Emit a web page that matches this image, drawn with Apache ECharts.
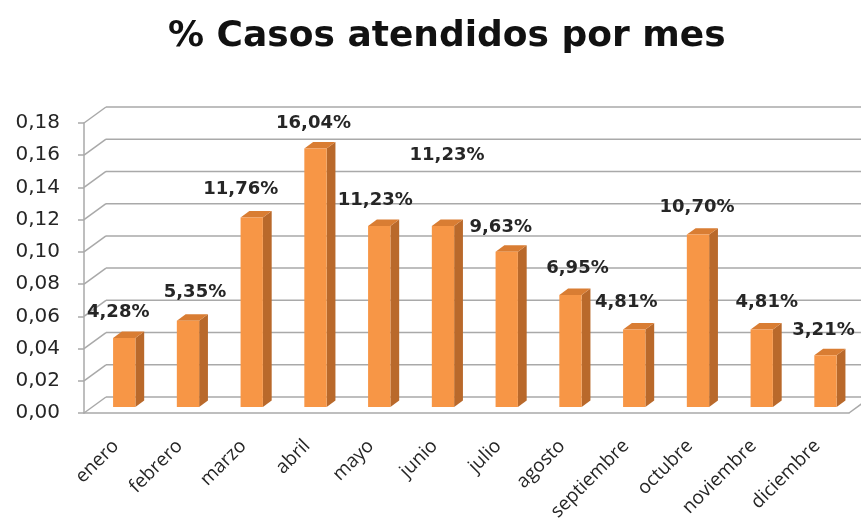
<!DOCTYPE html>
<html>
<head>
<meta charset="utf-8">
<script src="https://cdn.jsdelivr.net/npm/echarts@6/dist/echarts.min.js"></script>
<style>
  html, body { margin: 0; padding: 0; background: #fff; }
  #chart { width: 861px; height: 532px; }
</style>
</head>
<body>
<div id="chart"></div>
<script>
const months = ['enero', 'febrero', 'marzo', 'abril', 'mayo', 'junio', 'julio',
	'agosto', 'septiembre', 'octubre', 'noviembre', 'diciembre'];
const shares = [0.0428, 0.0535, 0.1176, 0.1604, 0.1123, 0.1123, 0.0963,
	0.0695, 0.0481, 0.1070, 0.0481, 0.0321];
const yTicks = [0, 0.02, 0.04, 0.06, 0.08, 0.10, 0.12, 0.14, 0.16, 0.18];

// nudges for the data labels, Excel put them a bit off the bars
const labelNudge = [[-6, -26], [7, -28], [-11, -28], [-2, -25], [-4, -26], [4, -71],
	[-6, -24], [7, -27], [-8, -27], [-1, -27], [5, -27], [-2, -25]];

// depth of the fake 3d box
const DX = 22, DY = -16;
const GRID_COLOR = '#a9a9a9';
const FONT = 'DejaVu Sans';

const chart = echarts.init(document.getElementById('chart'));

const fmtComma = (v, digits) => v.toFixed(digits).replace('.', ',');

function renderWalls(params, api) {
	const cs = params.coordSys;
	const v = api.value(0);
	const y = api.coord([0, v])[1];
	const left = cs.x;
	const right = cs.x + cs.width;
	const style = { stroke: GRID_COLOR, lineWidth: 1.5 };
	const children = [
		{ type: 'line', shape: { x1: left, y1: y, x2: left + DX, y2: y + DY }, style },
		{ type: 'line', shape: { x1: left + DX, y1: y + DY, x2: right + DX, y2: y + DY }, style }
	];
	if (v === 0) {
		children.push({ type: 'line', shape: { x1: right, y1: y, x2: right + DX, y2: y + DY }, style });
	}
	return { type: 'group', children };
}

function renderBar(params, api) {
	const i = api.value(0);
	const v = api.value(1);
	const base = api.coord([i, 0]);
	const top = api.coord([i, v]);
	const band = api.size([1, 0])[0];
	const w = band * 0.35;
	const d0 = 0.38, d1 = 0.78;
	const cx = base[0] + DX * d0;
	const xl = cx - w / 2, xr = cx + w / 2;
	const yb = base[1] + DY * d0, yt = top[1] + DY * d0;
	const sx = DX * (d1 - d0), sy = DY * (d1 - d0);
	const nudge = labelNudge[params.dataIndex];
	return {
		type: 'group',
		children: [
			{
				type: 'polygon',
				shape: { points: [[xr, yt], [xr + sx, yt + sy], [xr + sx, yb + sy], [xr, yb]] },
				style: { fill: '#b9692b' }
			},
			{
				type: 'polygon',
				shape: { points: [[xl, yt], [xr, yt], [xr + sx, yt + sy], [xl + sx, yt + sy]] },
				style: { fill: '#d97d33' }
			},
			{
				type: 'rect',
				shape: { x: xl, y: yt, width: w, height: yb - yt },
				style: { fill: '#f79646' }
			},
			{
				type: 'text',
				z2: 10,
				style: {
					x: cx + nudge[0],
					y: yt + nudge[1],
					text: fmtComma(v * 100, 2) + '%',
					fill: '#262626',
					font: 'bold 18px "' + FONT + '"',
					align: 'center',
					verticalAlign: 'middle'
				}
			}
		]
	};
}

const option = {
	animation: false,
	backgroundColor: '#ffffff',
	title: {
		text: '% Casos atendidos por mes',
		left: 163,
		top: 14,
		textStyle: {
			fontFamily: FONT,
			fontSize: 36,
			fontWeight: 'bold',
			color: '#111'
		}
	},
	grid: {
		left: 84,
		right: 12,
		top: 123,
		bottom: 119,
		outerBoundsMode: 'none'
	},
	xAxis: {
		type: 'category',
		data: months,
		axisLine: { lineStyle: { color: GRID_COLOR, width: 1.5 } },
		axisTick: { length: 6, lineStyle: { color: GRID_COLOR, width: 1.5 } },
		axisLabel: {
			rotate: 45,
			margin: 30,
			interval: 0,
			fontFamily: 'Open Sans',
			fontSize: 19,
			color: '#262626'
		}
	},
	yAxis: {
		type: 'value',
		min: 0,
		max: 0.18,
		interval: 0.02,
		axisLine: { show: true, lineStyle: { color: GRID_COLOR, width: 1.5 } },
		axisTick: { show: true, length: 6, lineStyle: { color: GRID_COLOR, width: 1.5 } },
		splitLine: { show: false },
		axisLabel: {
			margin: 24,
			fontFamily: FONT,
			fontSize: 20,
			color: '#262626',
			formatter: (v) => fmtComma(v, 2)
		}
	},
	series: [
		{
			type: 'custom',
			name: 'walls',
			z: 1,
			silent: true,
			encode: { y: 0 },
			data: yTicks.map((t) => [t]),
			renderItem: renderWalls
		},
		{
			type: 'custom',
			name: 'casos',
			z: 3,
			encode: { x: 0, y: 1 },
			data: shares.map((s, i) => [i, s]),
			renderItem: renderBar
		}
	]
};

chart.setOption(option);
</script>
</body>
</html>
